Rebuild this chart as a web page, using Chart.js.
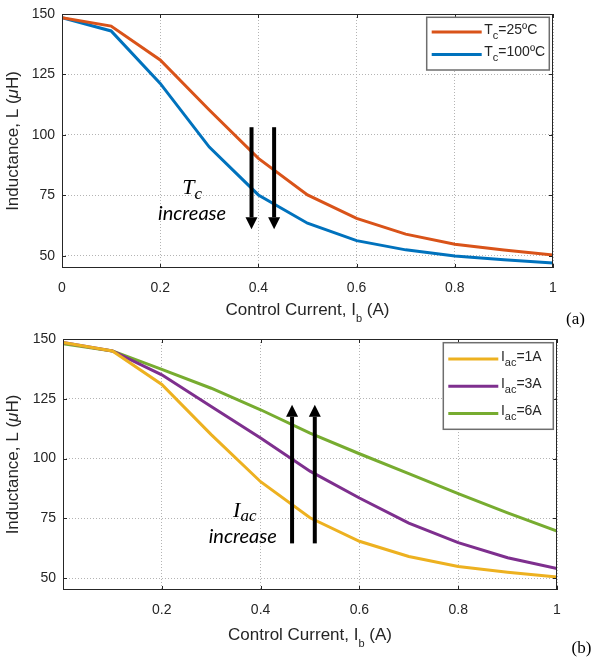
<!DOCTYPE html>
<html>
<head>
<meta charset="utf-8">
<script src="https://cdn.jsdelivr.net/npm/chart.js@4.4.1/dist/chart.umd.min.js"></script>
<style>
  html, body { margin: 0; padding: 0; background: #fff; }
  #wrap { position: relative; width: 592px; height: 657px; }
  #chartA { position: absolute; left: 0; top: 0; }
  #chartB { position: absolute; left: 0; top: 330px; }
</style>
</head>
<body>
<div id="wrap">
  <canvas id="chartA" width="592" height="330"></canvas>
  <canvas id="chartB" width="592" height="327"></canvas>
</div>
<script>
// control current I_b (A)
const controlCurrent = [0, 0.1, 0.2, 0.3, 0.4, 0.5, 0.6, 0.7, 0.8, 0.9, 1.0];

// (a) inductance vs core temperature
const tc25 = [148.5, 145, 131, 110.3, 90.3, 75.2, 65.5, 59, 54.8, 52.4, 50.4];
const tc100 = [148.5, 143, 121.3, 95, 75.2, 63.5, 56.3, 52.5, 50, 48.4, 47.1];

// (b) inductance vs ac current
const iac1 = [148.5, 145, 131, 110, 90.3, 75.2, 65.4, 59, 54.8, 52.4, 50.4];
const iac3 = [148.5, 145, 135, 121.8, 108.6, 94.7, 83.5, 73, 64.8, 58.5, 54];
const iac6 = [148, 145, 137.3, 129.4, 120.4, 110.6, 102, 93.7, 85.3, 77.3, 69.6];

const yTicks = [50, 75, 100, 125, 150];
const xTicksA = [0, 0.2, 0.4, 0.6, 0.8, 1];
const xTicksB = [0.2, 0.4, 0.6, 0.8, 1];

const sans = '"Liberation Sans", Arial, sans-serif';
const serif = '"Liberation Serif", "Times New Roman", serif';
const ink = '#262626';

function drawParts(ctx, parts, x, y, align) {
  let w = 0;
  parts.forEach(p => { ctx.font = p.font; p.w = ctx.measureText(p.t).width; w += p.w; });
  let cx = align === 'center' ? x - w / 2 : x;
  ctx.textAlign = 'left';
  ctx.textBaseline = 'alphabetic';
  parts.forEach(p => {
    ctx.font = p.font;
    ctx.fillText(p.t, cx, y + (p.dy || 0));
    cx += p.w;
  });
}

function drawArrow(ctx, x, y0, y1) {
  const dir = y1 > y0 ? 1 : -1;
  const head = 12;
  ctx.save();
  ctx.strokeStyle = '#000';
  ctx.fillStyle = '#000';
  ctx.lineWidth = 4;
  ctx.beginPath();
  ctx.moveTo(x, y0);
  ctx.lineTo(x, y1 - dir * head);
  ctx.stroke();
  ctx.beginPath();
  ctx.moveTo(x, y1);
  ctx.lineTo(x - 6, y1 - dir * head);
  ctx.lineTo(x + 6, y1 - dir * head);
  ctx.closePath();
  ctx.fill();
  ctx.restore();
}

function makeExtras(cfg) {
  return {
    id: 'extras',
    afterDraw(chart) {
      const ctx = chart.ctx;
      const a = chart.chartArea;
      const xs = chart.scales.x, ys = chart.scales.y;
      ctx.save();

      // box and inward ticks
      ctx.strokeStyle = ink;
      ctx.lineWidth = 1;
      ctx.strokeRect(a.left + 0.5, a.top + 0.5, a.right - a.left - 1, a.bottom - a.top - 1);
      ctx.beginPath();
      cfg.xTicks.forEach(v => {
        const px = Math.round(xs.getPixelForValue(v)) + 0.5;
        ctx.moveTo(px, a.bottom); ctx.lineTo(px, a.bottom - 4);
        ctx.moveTo(px, a.top); ctx.lineTo(px, a.top + 4);
      });
      yTicks.forEach(v => {
        const py = Math.round(ys.getPixelForValue(v)) + 0.5;
        ctx.moveTo(a.left, py); ctx.lineTo(a.left + 4, py);
        ctx.moveTo(a.right, py); ctx.lineTo(a.right - 4, py);
      });
      ctx.stroke();

      // arrows and notes
      cfg.arrows.forEach(ar => drawArrow(ctx, xs.getPixelForValue(ar.x),
        ys.getPixelForValue(ar.from), ys.getPixelForValue(ar.to)));
      ctx.fillStyle = '#000';
      cfg.notes.forEach(n => drawParts(ctx, n.parts, xs.getPixelForValue(n.x), ys.getPixelForValue(n.y), 'center'));

      // legend
      const lg = cfg.legend;
      const bx = a.right - 3.7 - lg.w, by = a.top + lg.top;
      ctx.fillStyle = '#fff';
      ctx.fillRect(bx, by, lg.w, lg.h);
      ctx.strokeStyle = '#6e6e6e';
      ctx.lineWidth = 1.5;
      ctx.strokeRect(bx, by, lg.w, lg.h);
      lg.items.forEach((it, i) => {
        const ly = by + lg.first + i * lg.step;
        ctx.strokeStyle = it.color;
        ctx.lineWidth = 3;
        ctx.beginPath();
        ctx.moveTo(bx + 5, ly); ctx.lineTo(bx + 55, ly);
        ctx.stroke();
        ctx.fillStyle = ink;
        drawParts(ctx, it.parts, bx + 57.6, ly + 1.5, 'left');
      });

      // axis titles
      ctx.fillStyle = ink;
      drawParts(ctx, [
        { t: 'Control Current, I', font: '17px ' + sans },
        { t: 'b', font: '11px ' + sans, dy: 7 },
        { t: ' (A)', font: '17px ' + sans }
      ], (a.left + a.right) / 2, a.bottom + cfg.xTitleDrop, 'center');

      ctx.save();
      ctx.translate(18, (a.top + a.bottom) / 2);
      ctx.rotate(-Math.PI / 2);
      drawParts(ctx, [
        { t: 'Inductance, L (', font: '17px ' + sans },
        { t: 'μ', font: 'italic 17px ' + sans },
        { t: 'H)', font: '17px ' + sans }
      ], 0, 0, 'center');
      ctx.restore();

      // panel tag
      ctx.font = '17px ' + serif;
      ctx.textAlign = 'left';
      ctx.textBaseline = 'alphabetic';
      ctx.fillStyle = '#000';
      ctx.fillText(cfg.tag, cfg.tagX, cfg.tagY);
      ctx.restore();
    }
  };
}

function sub(t) { return { t: t, font: '11px ' + sans, dy: 5 }; }
function main(t) { return { t: t, font: '14px ' + sans }; }

function lineSet(label, values, color) {
  return {
    label: label,
    data: controlCurrent.map((x, i) => ({ x: x, y: values[i] })),
    borderColor: color,
    backgroundColor: color,
    borderWidth: 3,
    pointRadius: 0,
    tension: 0,
    fill: false
  };
}

function makeOptions(xTicks, pad, yWidth, xHeight, tickPad) {
  return {
    responsive: false,
    animation: false,
    layout: { padding: pad },
    plugins: { legend: { display: false }, tooltip: { enabled: false } },
    scales: {
      x: {
        type: 'linear', min: 0, max: 1,
        afterBuildTicks: s => { s.ticks = xTicks.map(v => ({ value: v })); },
        afterFit: s => { s.height = xHeight; s.paddingLeft = 0; s.paddingRight = 0; },
        ticks: { callback: v => String(v), color: ink, font: { family: sans, size: 14 }, padding: tickPad, maxRotation: 0 },
        grid: { color: '#b4b4b4', lineWidth: 1, drawTicks: false },
        border: { display: false, dash: [1, 2] }
      },
      y: {
        type: 'linear', min: 45, max: 150,
        afterBuildTicks: s => { s.ticks = yTicks.map(v => ({ value: v })); },
        afterFit: s => { s.width = yWidth; s.paddingTop = 0; s.paddingBottom = 0; },
        ticks: { callback: v => String(v), color: ink, font: { family: sans, size: 14 }, padding: 7 },
        grid: { color: '#b4b4b4', lineWidth: 1, drawTicks: false },
        border: { display: false, dash: [1, 2] }
      }
    }
  };
}

new Chart(document.getElementById('chartA'), {
  type: 'line',
  data: {
    datasets: [
      lineSet('Tc=25ºC', tc25, '#D95319'),
      lineSet('Tc=100ºC', tc100, '#0072BD')
    ]
  },
  options: makeOptions(xTicksA, { top: 14, right: 39, left: 0, bottom: 0 }, 62, 62, 12),
  plugins: [makeExtras({
    xTicks: xTicksA,
    xTitleDrop: 47,
    tag: '(a)', tagX: 566, tagY: 323.5,
    arrows: [
      { x: 0.386, from: 103.2, to: 61 },
      { x: 0.432, from: 103.2, to: 61 }
    ],
    notes: [
      { x: 0.265, y: 75.6, parts: [
        { t: 'T', font: 'italic 22px ' + serif },
        { t: 'c', font: 'italic 17px ' + serif, dy: 5 }
      ] },
      { x: 0.265, y: 64.9, parts: [{ t: 'increase', font: 'italic 20px Lato, sans-serif' }] }
    ],
    legend: {
      w: 122.6, h: 52.7, top: 3.3, first: 14.7, step: 22.5,
      items: [
        { color: '#D95319', parts: [main('T'), sub('c'), main('=25ºC')] },
        { color: '#0072BD', parts: [main('T'), sub('c'), main('=100ºC')] }
      ]
    }
  })]
});

new Chart(document.getElementById('chartB'), {
  type: 'line',
  data: {
    datasets: [
      lineSet('Iac=1A', iac1, '#EDB120'),
      lineSet('Iac=3A', iac3, '#7E2F8E'),
      lineSet('Iac=6A', iac6, '#77AC30')
    ]
  },
  options: makeOptions(xTicksB, { top: 9, right: 35, left: 0, bottom: 0 }, 63, 67, 12),
  plugins: [makeExtras({
    xTicks: xTicksB,
    xTitleDrop: 50,
    tag: '(b)', tagX: 571.5, tagY: 322.5,
    arrows: [
      { x: 0.4637, from: 64.5, to: 122.5 },
      { x: 0.5097, from: 64.5, to: 122.5 }
    ],
    notes: [
      { x: 0.368, y: 75.6, parts: [
        { t: 'I', font: 'italic 22px ' + serif },
        { t: 'ac', font: 'italic 17px ' + serif, dy: 4 }
      ] },
      { x: 0.364, y: 64.5, parts: [{ t: 'increase', font: 'italic 20px Lato, sans-serif' }] }
    ],
    legend: {
      w: 110, h: 86.6, top: 3.7, first: 16.3, step: 27.2,
      items: [
        { color: '#EDB120', parts: [main('I'), sub('ac'), main('=1A')] },
        { color: '#7E2F8E', parts: [main('I'), sub('ac'), main('=3A')] },
        { color: '#77AC30', parts: [main('I'), sub('ac'), main('=6A')] }
      ]
    }
  })]
});
</script>
</body>
</html>
